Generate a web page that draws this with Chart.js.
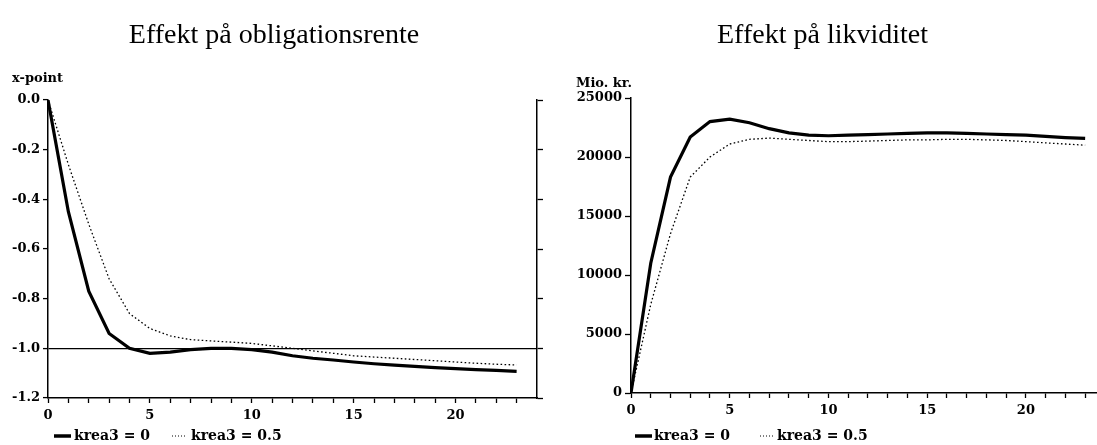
<!DOCTYPE html>
<html lang="da">
<head>
<meta charset="utf-8">
<title>Effekt på obligationsrente og likviditet</title>
<script src="https://cdn.jsdelivr.net/npm/chart.js@4/dist/chart.umd.min.js"></script>
<style>
  html, body { margin: 0; padding: 0; background: #fff; }
  #wrap { position: relative; width: 1097px; height: 445px; overflow: hidden; }
  .panel { position: absolute; top: 0; height: 445px; }
  #p1 { left: 0; width: 548px; }
  #p2 { left: 548px; width: 549px; }
</style>
</head>
<body>
<div id="wrap">
  <div class="panel" id="p1"><canvas id="rente" width="548" height="445"></canvas></div>
  <div class="panel" id="p2"><canvas id="likv" width="549" height="445"></canvas></div>
</div>
<script>
// Kvartaler efter stødet
const periods = [0,1,2,3,4,5,6,7,8,9,10,11,12,13,14,15,16,17,18,19,20,21,22,23];

// Obligationsrente, procentpoint
const renteKrea0  = [0, -0.45, -0.77, -0.94, -1.0, -1.02, -1.015, -1.005, -1.0, -1.0, -1.005, -1.015,
                     -1.03, -1.04, -1.047, -1.055, -1.062, -1.068, -1.073, -1.078, -1.082, -1.086, -1.089, -1.093];
const renteKrea05 = [0, -0.26, -0.5, -0.72, -0.86, -0.92, -0.95, -0.965, -0.97, -0.975, -0.98, -0.99,
                     -1.0, -1.01, -1.02, -1.03, -1.035, -1.04, -1.045, -1.05, -1.055, -1.06, -1.064, -1.067];

// Likviditet, mio. kr.
const likvKrea0  = [0, 11000, 18300, 21700, 23000, 23200, 22900, 22400, 22050, 21850, 21800, 21850,
                    21900, 21950, 22000, 22050, 22050, 22000, 21950, 21900, 21850, 21750, 21650, 21580];
const likvKrea05 = [0, 7500, 13500, 18300, 20000, 21100, 21500, 21600, 21500, 21400, 21300, 21300,
                    21350, 21400, 21450, 21450, 21500, 21500, 21450, 21400, 21300, 21200, 21100, 21000];

const seriesLabels = ['krea3 = 0', 'krea3 = 0.5'];
const renteTicks = [0, -0.2, -0.4, -0.6, -0.8, -1.0, -1.2];
const likvTicks  = [0, 5000, 10000, 15000, 20000, 25000];
const xLabelEvery = 5;

const tickFont = { family: 'DejaVu Serif', size: 13, weight: 'bold' };
const titleFont = { family: 'Liberation Serif', size: 28, weight: 'normal', lineHeight: 1.2 };

function toPoints(ys) { return periods.map((p, i) => ({ x: p, y: ys[i] })); }

function lineSets(a, b) {
  return [
    { label: seriesLabels[0], data: toPoints(a), borderColor: '#000', borderWidth: 3.2,
      pointRadius: 0, tension: 0, fill: false },
    { label: seriesLabels[1], data: toPoints(b), borderColor: '#000', borderWidth: 1.3,
      borderDash: [1.6, 2.4], pointRadius: 0, tension: 0, fill: false }
  ];
}

// Axis unit text above the y axis and a line-sample legend under the x axis
const annotations = {
  id: 'annotations',
  afterDraw(chart, args, opts) {
    const ctx = chart.ctx;
    ctx.save();
    ctx.fillStyle = '#000';
    ctx.textBaseline = 'middle';
    ctx.textAlign = 'left';
    ctx.font = 'bold 13px "DejaVu Serif"';
    ctx.fillText(opts.unit, opts.unitX, opts.unitY);
    ctx.font = 'bold 14px "DejaVu Serif"';
    chart.data.datasets.forEach((ds, i) => {
      const it = opts.items[i];
      ctx.beginPath();
      ctx.strokeStyle = ds.borderColor;
      ctx.lineWidth = i === 0 ? 3.5 : 1;
      ctx.setLineDash(i === 0 ? [] : [1, 2]);
      ctx.moveTo(it.x0, opts.legendY);
      ctx.lineTo(it.x1, opts.legendY);
      ctx.stroke();
      ctx.setLineDash([]);
      ctx.fillText(ds.label, it.tx, opts.legendY);
    });
    ctx.restore();
  }
};

function xScale(maxX, h) {
  return {
    type: 'linear', min: 0, max: maxX,
    afterFit: s => { s.height = h; },
    afterBuildTicks: s => { s.ticks = periods.map(v => ({ value: v })); },
    ticks: {
      autoSkip: false, maxRotation: 0, padding: 5, color: '#000', font: tickFont,
      callback: v => (v % xLabelEvery === 0 ? String(v) : '')
    },
    grid: { drawOnChartArea: false, tickLength: 5, tickColor: '#000', tickWidth: 1.3 },
    border: { display: true, color: '#000', width: 1.5 }
  };
}

new Chart(document.getElementById('rente'), {
  type: 'line',
  data: { datasets: lineSets(renteKrea0, renteKrea05) },
  plugins: [annotations],
  options: {
    responsive: false, animation: false, devicePixelRatio: 1,
    layout: { padding: 0 },
    scales: {
      x: xScale(24, 47),
      y: {
        type: 'linear', position: 'left', min: -1.2, max: 0,
        afterFit: s => { s.width = 48; },
        afterBuildTicks: s => { s.ticks = renteTicks.map(v => ({ value: v })); },
        ticks: { padding: 3, color: '#000', font: tickFont, callback: v => v.toFixed(1) },
        grid: {
          drawOnChartArea: true, tickLength: 5, tickColor: '#000', tickWidth: 1.3, lineWidth: 1.2,
          color: c => (c.tick && Math.abs(c.tick.value + 1.0) < 1e-9 ? '#000' : 'rgba(0,0,0,0)')
        },
        border: { display: true, color: '#000', width: 1.5 }
      },
      y2: {
        type: 'linear', position: 'right', min: -1.2, max: 0,
        afterFit: s => { s.width = 11; },
        afterBuildTicks: s => { s.ticks = renteTicks.map(v => ({ value: v })); },
        ticks: { display: false },
        grid: { drawOnChartArea: false, tickLength: 6, tickColor: '#000', tickWidth: 1.3 },
        border: { display: true, color: '#000', width: 1.5 }
      }
    },
    plugins: {
      legend: { display: false },
      tooltip: { enabled: false },
      title: {
        display: true, text: 'Effekt på obligationsrente', color: '#000', font: titleFont,
        padding: { top: 19, bottom: 47.4 }
      },
      annotations: {
        unit: 'x-point', unitX: 12, unitY: 79, legendY: 436,
        items: [{ x0: 54, x1: 71, tx: 74 }, { x0: 172, x1: 187, tx: 191 }]
      }
    }
  }
});

new Chart(document.getElementById('likv'), {
  type: 'line',
  data: { datasets: lineSets(likvKrea0, likvKrea05) },
  plugins: [annotations],
  options: {
    responsive: false, animation: false, devicePixelRatio: 1,
    layout: { padding: 0 },
    scales: {
      x: xScale(23.6, 52),
      y: {
        type: 'linear', position: 'left', min: 0, max: 25000,
        afterFit: s => { s.width = 83; },
        afterBuildTicks: s => { s.ticks = likvTicks.map(v => ({ value: v })); },
        ticks: { padding: 3, color: '#000', font: tickFont, callback: v => String(v) },
        grid: { drawOnChartArea: false, tickLength: 6, tickColor: '#000', tickWidth: 1.3 },
        border: { display: true, color: '#000', width: 1.5 }
      }
    },
    plugins: {
      legend: { display: false },
      tooltip: { enabled: false },
      title: {
        display: true, text: 'Effekt på likviditet', color: '#000', font: titleFont,
        padding: { top: 19, bottom: 45.4 }
      },
      annotations: {
        unit: 'Mio. kr.', unitX: 28, unitY: 84, legendY: 436,
        items: [{ x0: 87, x1: 104, tx: 106 }, { x0: 212, x1: 227, tx: 229 }]
      }
    }
  }
});
</script>
</body>
</html>
